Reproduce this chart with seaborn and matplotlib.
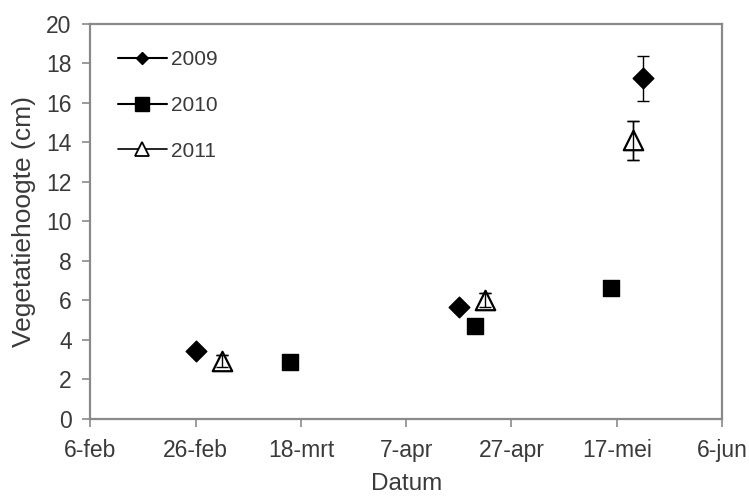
import matplotlib
matplotlib.use("Agg")
import matplotlib.pyplot as plt
from matplotlib.lines import Line2D
import seaborn as sns
import pandas as pd

# Data (month-day, common reference year)
dates_2009 = ["02-26", "04-17", "05-22"]
vals_2009 = [3.4, 5.65, 17.25]
err_2009 = [0.1, 0.1, 1.15]

dates_2010 = ["03-16", "04-20", "05-16"]
vals_2010 = [2.85, 4.7, 6.6]
err_2010 = [0.05, 0.05, 0.05]

dates_2011 = ["03-03", "04-22", "05-20"]
vals_2011 = [2.9, 6.0, 14.1]
err_2011 = [0.3, 0.35, 0.98]

tick_dates = ["02-06", "02-26", "03-18", "04-07", "04-27", "05-17", "06-06"]
tick_labels = ["6-feb", "26-feb", "18-mrt", "7-apr", "27-apr", "17-mei", "6-jun"]
y_ticks = [0, 2, 4, 6, 8, 10, 12, 14, 16, 18, 20]

REF_YEAR = 2010
def to_dt(lst):
    return pd.to_datetime([f"{REF_YEAR}-{d}" for d in lst])

frames = []
for yr, d, v, e in [("2009", dates_2009, vals_2009, err_2009),
                    ("2010", dates_2010, vals_2010, err_2010),
                    ("2011", dates_2011, vals_2011, err_2011)]:
    frames.append(pd.DataFrame({"jaar": yr, "datum": to_dt(d), "hoogte": v, "fout": e}))
df = pd.concat(frames, ignore_index=True)

sns.set_theme(style="white")
plt.rcParams['font.family'] = ['Liberation Sans', 'DejaVu Sans']

TXT = "#3a3a3a"
GRID = "#8a8a8a"

fig = plt.figure(figsize=(7.49, 4.98), dpi=100)
ax = fig.add_axes([0.1208, 0.1596, 0.8431, 0.7922])

styles = {
    "2009": dict(marker="D", ms=10.5, fc="black", ec="black", lw=1),
    "2010": dict(marker="s", ms=12, fc="black", ec="black", lw=1),
    "2011": dict(marker="^", ms=14, fc="white", ec="black", lw=1.6),
}
for yr in ["2010", "2009", "2011"]:
    sub = df[df.jaar == yr]
    st = styles[yr]
    ax.errorbar(sub.datum, sub.hoogte, yerr=sub.fout, fmt="none",
                ecolor="black", elinewidth=1, capsize=4.5, capthick=1, zorder=2)
    sns.scatterplot(data=sub, x="datum", y="hoogte", ax=ax, marker=st["marker"],
                    s=st["ms"] ** 2, color=st["fc"], edgecolor=st["ec"],
                    linewidth=st["lw"], zorder=3, legend=False)
sub = df[df.jaar == "2011"]
ax.errorbar(sub.datum, sub.hoogte, yerr=sub.fout, fmt="none",
            ecolor="black", elinewidth=1, capsize=4.5, capthick=1, zorder=4)

ax.set_xlim(to_dt(["02-06"])[0], to_dt(["06-06"])[0])
ax.set_xticks(to_dt(tick_dates))
ax.set_xticklabels(tick_labels)
ax.set_ylim(0, 20)
ax.set_yticks(y_ticks)

ax.set_xlabel("Datum", fontsize=17.5, color=TXT)
ax.set_ylabel("Vegetatiehoogte (cm)", fontsize=19, color=TXT)
ax.xaxis.set_label_coords(0.5, -0.137)
ax.yaxis.set_label_coords(-0.086, 0.5)
ax.tick_params(axis="both", labelsize=16.5, labelcolor=TXT, color=GRID,
               length=5.5, width=1.2, direction="out", bottom=True, left=True)
ax.tick_params(axis="x", pad=9)
ax.tick_params(axis="y", pad=8)
for sp in ax.spines.values():
    sp.set_color(GRID)
    sp.set_linewidth(1.6)

handles = [
    Line2D([0], [0], color="black", lw=1.5, marker="D", ms=6.5, mfc="black", mec="black"),
    Line2D([0], [0], color="black", lw=1.5, marker="s", ms=9.5, mfc="black", mec="black"),
    Line2D([0], [0], color="black", lw=1.2, marker="^", ms=10.5, mfc="white", mec="black", mew=1.3),
]
ax.legend(handles, ["2009", "2010", "2011"], loc="upper left", frameon=False,
          fontsize=15, handlelength=2.35, labelspacing=1.29, handletextpad=0.2,
          borderpad=0, borderaxespad=0,
          bbox_to_anchor=(0.0435, 0.934), labelcolor=TXT)

fig.savefig("out.png", dpi=100)
